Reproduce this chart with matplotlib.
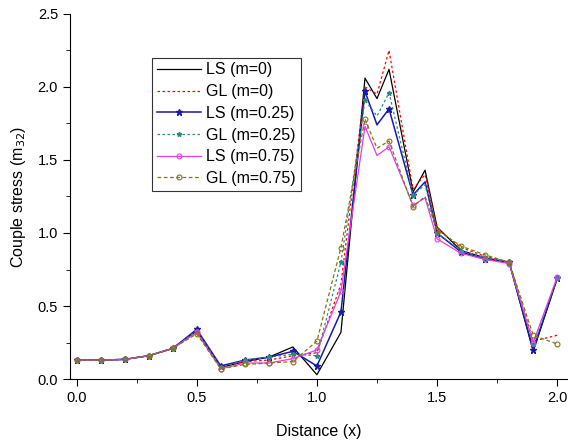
import matplotlib.pyplot as plt
from matplotlib.ticker import MultipleLocator

plt.rcParams['font.family'] = ['Liberation Sans', 'DejaVu Sans']

# dati (1.25 e 1.45 solo per la forma dei picchi, senza marker)
x = [0.0, 0.1, 0.2, 0.3, 0.4, 0.5, 0.6, 0.7, 0.8, 0.9, 1.0, 1.1, 1.2, 1.25, 1.3,
     1.4, 1.45, 1.5, 1.6, 1.7, 1.8, 1.9, 2.0]

ls_m0 = [0.13, 0.13, 0.135, 0.16, 0.21, 0.33, 0.08, 0.12, 0.15, 0.22, 0.03, 0.32, 2.06,
         1.92, 2.12, 1.28, 1.43, 1.04, 0.88, 0.83, 0.80, 0.19, 0.69]
gl_m0 = [0.13, 0.13, 0.135, 0.16, 0.21, 0.33, 0.08, 0.12, 0.13, 0.16, 0.18, 0.65, 2.00,
         1.95, 2.25, 1.30, 1.40, 1.03, 0.90, 0.84, 0.80, 0.26, 0.30]
ls_m025 = [0.13, 0.13, 0.135, 0.16, 0.21, 0.34, 0.09, 0.13, 0.15, 0.19, 0.09, 0.46, 1.97,
           1.74, 1.85, 1.26, 1.35, 1.00, 0.87, 0.82, 0.80, 0.20, 0.69]
gl_m025 = [0.13, 0.13, 0.135, 0.16, 0.21, 0.33, 0.08, 0.13, 0.15, 0.17, 0.16, 0.80, 1.91,
           1.80, 1.96, 1.26, 1.33, 1.00, 0.88, 0.83, 0.80, 0.24, 0.69]
ls_m075 = [0.13, 0.13, 0.135, 0.16, 0.21, 0.32, 0.07, 0.11, 0.11, 0.14, 0.20, 0.60, 1.73,
           1.53, 1.59, 1.19, 1.24, 0.96, 0.86, 0.82, 0.79, 0.25, 0.70]
gl_m075 = [0.13, 0.13, 0.135, 0.16, 0.21, 0.31, 0.07, 0.10, 0.11, 0.12, 0.26, 0.90, 1.78,
           1.58, 1.63, 1.18, 1.25, 1.02, 0.91, 0.85, 0.80, 0.30, 0.24]

labels = ["LS (m=0)", "GL (m=0)", "LS (m=0.25)", "GL (m=0.25)", "LS (m=0.75)", "GL (m=0.75)"]

mark_idx = [i for i, v in enumerate(x) if v not in (1.25, 1.45)]

fig = plt.figure(figsize=(5.68, 4.46), dpi=100)
ax = fig.add_axes([0.123, 0.150, 0.875, 0.819])

ax.plot(x, ls_m0, color="black", lw=0.9, label=labels[0])
ax.plot(x, gl_m0, color="red", lw=0.9, ls=(0, (2, 2)), label=labels[1])
ax.plot(x, ls_m025, color="#1a1aa8", lw=1.1, marker="*", ms=4.5, markevery=mark_idx, label=labels[2])
ax.plot(x, gl_m025, color="#2a8a80", lw=0.9, ls=(0, (2, 2)), marker="*", ms=3.5,
        markevery=mark_idx, label=labels[3])
ax.plot(x, ls_m075, color="#e040e0", lw=0.9, marker="o", ms=3.5, mfc="none", mew=0.8,
        markevery=mark_idx, label=labels[4])
ax.plot(x, gl_m075, color="#7a7a10", lw=0.9, ls=(0, (3, 2)), marker="o", ms=3.5, mfc="none",
        mew=0.8, markevery=mark_idx, label=labels[5])

ax.set_xlim(-0.028, 2.04)
ax.set_ylim(0, 2.5)
ax.xaxis.set_major_locator(MultipleLocator(0.5))
ax.xaxis.set_minor_locator(MultipleLocator(0.25))
ax.yaxis.set_major_locator(MultipleLocator(0.5))
ax.yaxis.set_minor_locator(MultipleLocator(0.25))
ax.tick_params(which="major", direction="out", length=5, labelsize=10.5)
ax.tick_params(which="minor", direction="out", length=3)
ax.spines["top"].set_visible(False)
ax.spines["right"].set_visible(False)

ax.set_xlabel("Distance (x)", fontsize=11.5, labelpad=14)
ax.set_ylabel("Couple stress (m$_{32}$)", fontsize=11.5, labelpad=7)

leg = ax.legend(loc="upper left", bbox_to_anchor=(0.165, 0.88), fontsize=11.5, frameon=True,
                fancybox=False, edgecolor="black", handlelength=2.8, borderpad=0.3,
                labelspacing=0.42, handletextpad=0.3, borderaxespad=0)
leg.get_frame().set_linewidth(0.8)

plt.savefig("out.png", dpi=100)
